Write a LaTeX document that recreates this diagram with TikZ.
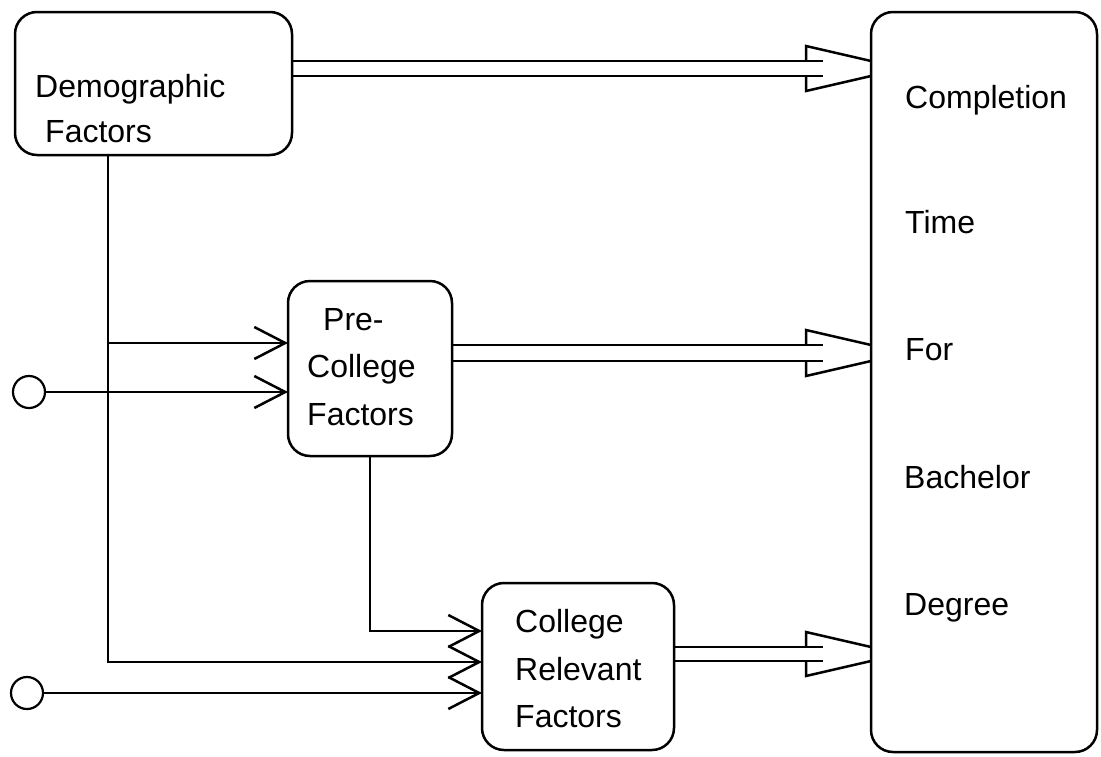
\documentclass[tikz,border=0pt]{standalone}
\usepackage{fontspec}
\setmainfont{Liberation Sans}
\usetikzlibrary{arrows.meta,calc}
\tikzset{
  box/.style={draw, rounded corners=22pt, inner sep=0pt, outer sep=0pt, line width=2.5pt},
  lbl/.style={anchor=base west, inner sep=0pt, font=\fontsize{32}{38}\selectfont},
  circ/.style={draw, circle, minimum size=32pt, inner sep=0pt, line width=2.2pt},
  varrow/.style={line width=2.5pt, -{Straight Barb[length=31pt,width=32pt]}},
  conn/.style={line width=2.5pt},
}
\newcommand\fatarrow[3]{%
  \draw[conn] (#1.east|-0,#2) -- ($(comp.west|-0,#2)+(-48,0)$);
  \draw[conn] (#1.east|-0,#3) -- ($(comp.west|-0,#3)+(-48,0)$);
  \draw[conn] ($(comp.west|-0,#2)+(-65,0)$) -- ++(0,-15) -- (comp.west|-0,#2);
  \draw[conn] ($(comp.west|-0,#3)+(-65,0)$) -- ++(0,15) -- (comp.west|-0,#3);
}
\begin{document}
\begin{tikzpicture}[x=1pt,y=-1pt]
\useasboundingbox (0,0) rectangle (1101,756);
% boxes
\node[box, minimum width=277pt, minimum height=143pt] (demo) at (153.5,83.5) {};
\node[box, minimum width=226pt, minimum height=740pt] (comp) at (984,382) {};
\node[box, minimum width=164pt, minimum height=175pt] (pre) at (370,368.5) {};
\node[box, minimum width=192pt, minimum height=167pt] (coll) at (578,666.5) {};
% texts
\node[lbl] (t1) at (35,97) {Demographic};
\node[lbl] (t2) at (45,142) {Factors};
\node[lbl] (t3) at (323,330) {Pre-};
\node[lbl] (t4) at (307,377) {College};
\node[lbl] (t5) at (307,425) {Factors};
\node[lbl] (t6) at (515,632) {College};
\node[lbl] (t7) at (515,680) {Relevant};
\node[lbl] (t8) at (515,727) {Factors};
\node[lbl] (t9) at (905,108) {Completion};
\node[lbl] (t10) at (905,233) {Time};
\node[lbl] (t11) at (905,360) {For};
\node[lbl] (t12) at (904,488) {Bachelor};
\node[lbl] (t13) at (904,615) {Degree};
% circles
\node[circ] (c1) at (29,392) {};
\node[circ] (c2) at (27,693) {};
% connectors
\coordinate (j1) at (108,343);
\draw[varrow] (demo.south -| j1) |- (coll.west |- 0,662);
\draw[varrow] (j1) -- (pre.west |- j1);
\draw[varrow] (c1) -- (pre.west |- c1);
\draw[varrow] (c2) -- (coll.west |- c2);
\draw[varrow] (pre.south) |- (coll.west |- 0,631);
% fat arrows
\fatarrow{demo}{61}{76}
\fatarrow{pre}{345}{361}
\fatarrow{coll}{647}{661}
\end{tikzpicture}
\end{document}
